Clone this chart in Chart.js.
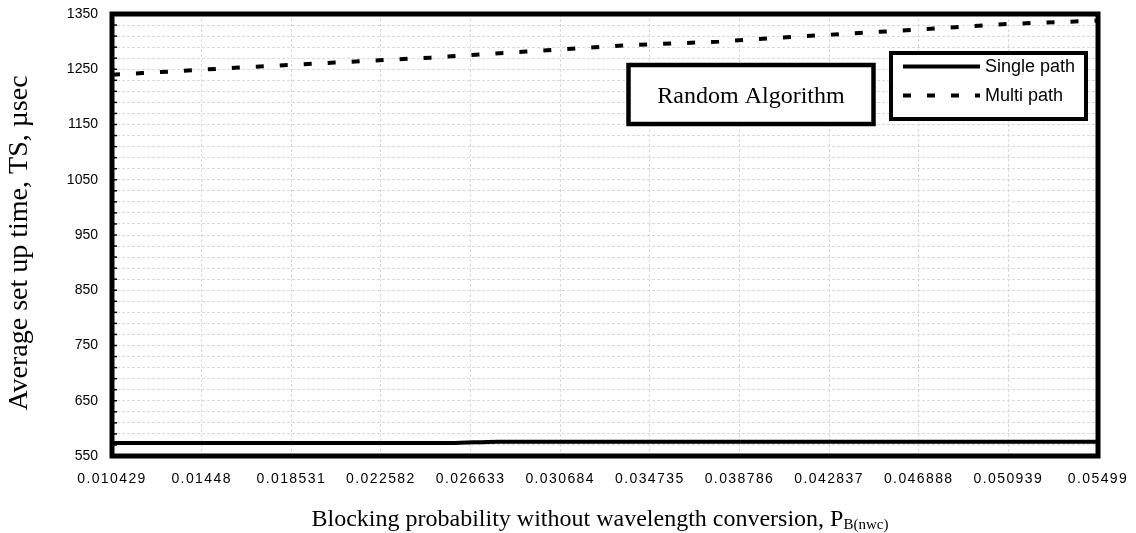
<!DOCTYPE html>
<html><head><meta charset="utf-8">
<script src="https://cdn.jsdelivr.net/npm/chart.js@4.4.1/dist/chart.umd.min.js"></script>
<style>html,body{margin:0;padding:0;background:#fff;}#wrap{width:1136px;height:533px;position:relative;}</style>
</head><body><div id="wrap"><canvas id="c"></canvas></div>
<script>
// ---- data ----
const tickValues = [0.010429, 0.01448, 0.018531, 0.022582, 0.026633, 0.030684, 0.034735, 0.038786, 0.042837, 0.046888, 0.050939, 0.05499];
const tickLabels = ['0.010429', '0.01448', '0.018531', '0.022582', '0.026633', '0.030684', '0.034735', '0.038786', '0.042837', '0.046888', '0.050939', '0.05499'];
const singleX = [0.010429, 0.025722, 0.02786, 0.05499];
const singleY = [573.5, 573.5, 576, 576];
const multiX = [0.010429, 0.011808, 0.016149, 0.02049, 0.024831, 0.029171, 0.033512, 0.037853, 0.042194, 0.046535, 0.050876, 0.05499];
const multiY = [1240, 1243, 1253, 1262, 1271, 1282, 1293, 1300, 1311, 1321, 1332, 1338];
const seriesNames = ['Single path', 'Multi path'];
const yLabelValues = [550, 650, 750, 850, 950, 1050, 1150, 1250, 1350];
const xTitle = 'Blocking probability without wavelength conversion, P';
const xTitleSub = 'B(nwc)';
const yTitle = 'Average set up time, TS, \u00b5sec';
const boxText = 'Random Algorithm';

const SANS = '"Liberation Sans", Arial, sans-serif';
const SERIF = '"Liberation Serif", "Times New Roman", serif';

const decor = {
  id: 'decor',
  afterDatasetsDraw(chart) {
    const ctx = chart.ctx, ca = chart.chartArea, ys = chart.scales.y;
    ctx.save();
    // minor inside ticks on y axis
    ctx.strokeStyle = '#000'; ctx.lineWidth = 1.5;
    for (let v = ys.min; v <= ys.max; v += 20) {
      const py = ys.getPixelForValue(v);
      ctx.beginPath(); ctx.moveTo(ca.left, py); ctx.lineTo(ca.left + 5, py); ctx.stroke();
    }
    // plot border
    ctx.lineWidth = 5; ctx.strokeStyle = '#000'; ctx.lineJoin = 'miter';
    ctx.strokeRect(ca.left, ca.top, ca.right - ca.left, ca.bottom - ca.top);
    ctx.restore();
    ctx.letterSpacing = '1.4px';
  },
  afterDraw(chart) {
    const ctx = chart.ctx, ca = chart.chartArea;
    ctx.letterSpacing = '0px';
    ctx.save();
    // Random Algorithm box
    const bx = ca.left + 516.5, by = ca.top + 51, bw = 245, bh = 59;
    ctx.fillStyle = '#fff'; ctx.fillRect(bx, by, bw, bh);
    ctx.lineWidth = 4.5; ctx.strokeStyle = '#000'; ctx.strokeRect(bx, by, bw, bh);
    ctx.fillStyle = '#000'; ctx.font = '24px ' + SERIF; ctx.textAlign = 'center'; ctx.textBaseline = 'alphabetic';
    ctx.fillText(boxText, bx + bw / 2, by + 37.5);
    // legend
    const lx = ca.right - 207, ly = ca.top + 39, lw = 195, lh = 66;
    ctx.fillStyle = '#fff'; ctx.fillRect(lx, ly, lw, lh);
    ctx.lineWidth = 4; ctx.strokeRect(lx, ly, lw, lh);
    const ds = chart.data.datasets;
    const rows = [ly + 13.5, ly + 42.5];
    ds.forEach((d, i) => {
      ctx.save();
      ctx.strokeStyle = d.borderColor; ctx.lineWidth = d.borderWidth; ctx.lineCap = 'butt';
      ctx.setLineDash(d.borderDash || []);
      ctx.beginPath(); ctx.moveTo(lx + 12, rows[i]); ctx.lineTo(lx + 89, rows[i]); ctx.stroke();
      ctx.restore();
      ctx.fillStyle = '#000'; ctx.font = '18px ' + SANS; ctx.textAlign = 'left'; ctx.textBaseline = 'middle';
      ctx.fillText(d.label, lx + 94, rows[i] + 1);
    });
    // x axis title with subscript
    ctx.textBaseline = 'alphabetic'; ctx.textAlign = 'left';
    ctx.font = '24px ' + SERIF;
    const w1 = ctx.measureText(xTitle).width;
    ctx.font = '15px ' + SERIF;
    const w2 = ctx.measureText(xTitleSub).width;
    const cx = (ca.left + ca.right) / 2 - 5;
    const x0 = cx - (w1 + w2) / 2;
    ctx.font = '24px ' + SERIF; ctx.fillText(xTitle, x0, 525.5);
    ctx.font = '15px ' + SERIF; ctx.fillText(xTitleSub, x0 + w1, 528.5);
    // y axis title (rotated)
    ctx.save();
    ctx.translate(27, 243);
    ctx.rotate(-Math.PI / 2);
    ctx.font = '28px ' + SERIF; ctx.textAlign = 'center'; ctx.textBaseline = 'alphabetic';
    ctx.fillText(yTitle, 0, 0);
    ctx.restore();
    ctx.restore();
  }
};

new Chart(document.getElementById('c'), {
  type: 'line',
  data: {
    datasets: [
      { label: seriesNames[0], data: singleX.map((x, i) => ({ x, y: singleY[i] })), borderColor: '#000', borderWidth: 4,
        pointRadius: 0, cubicInterpolationMode: 'monotone', fill: false },
      { label: seriesNames[1], data: multiX.map((x, i) => ({ x, y: multiY[i] })), borderColor: '#000', borderWidth: 4,
        borderDash: [8, 16], borderCapStyle: 'butt', pointRadius: 0, tension: 0, fill: false }
    ]
  },
  options: {
    responsive: true, maintainAspectRatio: false, animation: false,
    layout: { padding: { top: 14, right: 38, left: 0, bottom: 0 } },
    plugins: { legend: { display: false }, tooltip: { enabled: false } },
    scales: {
      x: {
        type: 'linear', min: tickValues[0], max: tickValues[tickValues.length - 1],
        afterBuildTicks: s => { s.ticks = tickValues.map(v => ({ value: v })); },
        afterFit: s => { s.height = 77; s.paddingLeft = 0; s.paddingRight = 0; },
        ticks: { autoSkip: false, maxRotation: 0, padding: 15, color: '#000', z: 1,
          font: { family: SANS, size: 14 }, callback: (v, i) => tickLabels[i] },
        grid: { color: '#d9d9d9', lineWidth: 1, drawTicks: false },
        border: { display: false, dash: [3, 2] }
      },
      y: {
        type: 'linear', min: 550, max: 1350,
        afterFit: s => { s.width = 112; s.paddingTop = 0; s.paddingBottom = 0; },
        ticks: { stepSize: 20, autoSkip: false, padding: 14, color: '#000',
          font: { family: SANS, size: 14 },
          callback: v => (yLabelValues.includes(v) ? String(v) : '') },
        grid: { color: '#d9d9d9', lineWidth: 1, drawTicks: false },
        border: { display: false, dash: [3, 2] },
        title: { display: false }
      }
    }
  },
  plugins: [decor]
});
</script>
</body></html>
